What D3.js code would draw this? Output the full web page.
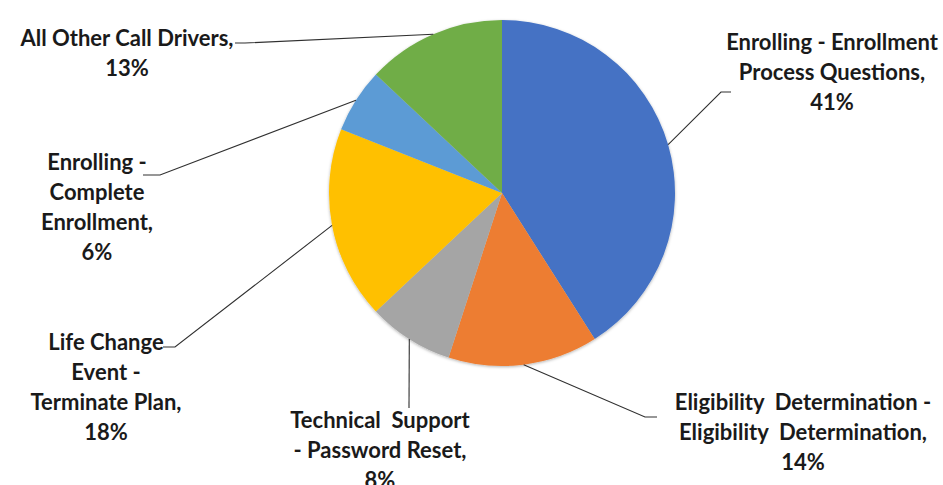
<!DOCTYPE html>
<html>
<head>
<meta charset="utf-8">
<script src="https://cdn.jsdelivr.net/npm/d3@7"></script>
<style>
  body { margin: 0; background: #fff; }
  .label text { font-family: Lato, "Open Sans", sans-serif; font-weight: bold; fill: #1a1a1a; }
</style>
</head>
<body>
<div class="main"></div>
<script>
// Data, clockwise from 12 o'clock
const categories = [
  ["Enrolling - Enrollment", "Process Questions"],
  ["Eligibility  Determination -", "Eligibility  Determination"],
  ["Technical  Support", "- Password Reset"],
  ["Life Change", "Event -", "Terminate Plan"],
  ["Enrolling -", "Complete", "Enrollment"],
  ["All Other Call Drivers"]
];
const percents = [41, 14, 8, 18, 6, 13];
const colors = ["#4472C4", "#ED7D31", "#A5A5A5", "#FFC000", "#5B9BD5", "#70AD47"];

// Label layout: text centre x, first line centre y, leader elbow and end
const labelPos = [
  { x: 832, y: 42,  elbow: [721, 92],  end: 731 },
  { x: 803, y: 402, elbow: [645, 417], end: 657 },
  { x: 380, y: 420, elbow: [409, 408], end: 409 },
  { x: 106, y: 342, elbow: [175, 347], end: 163 },
  { x: 97,  y: 162, elbow: [160, 175], end: 143 },
  { x: 127, y: 38,  elbow: [245, 43],  end: 235 }
];

const width = 943, height = 485;
const cx = 502, cy = 193, radius = 173;
const lineGap = 30;

const svg = d3.select(".main").append("svg")
    .attr("width", width)
    .attr("height", height);

const defs = svg.append("defs");
defs.append("filter")
    .attr("id", "shadow")
    .attr("x", "-10%").attr("y", "-10%")
    .attr("width", "120%").attr("height", "120%")
  .append("feDropShadow")
    .attr("dx", 0).attr("dy", 1)
    .attr("stdDeviation", 1.6)
    .attr("flood-color", "#000")
    .attr("flood-opacity", 0.3);

const pie = d3.pie().sort(null).value(d => d);
const arcs = pie(percents);
const arc = d3.arc().innerRadius(0).outerRadius(radius);

const pieG = svg.append("g")
    .attr("transform", "translate(" + cx + "," + cy + ")")
    .attr("filter", "url(#shadow)");

pieG.selectAll("path")
  .data(arcs)
  .enter().append("path")
    .attr("d", arc)
    .attr("fill", (d, i) => colors[i]);

// leader lines
function edgePoint(d) {
  const a = (d.startAngle + d.endAngle) / 2;
  return [cx + radius * Math.sin(a), cy - radius * Math.cos(a)];
}

svg.append("g").selectAll("polyline")
  .data(arcs)
  .enter().append("polyline")
    .attr("points", (d, i) => {
      const p = labelPos[i];
      const s = edgePoint(d);
      return [s, p.elbow, [p.end, p.elbow[1]]].map(q => q.join(",")).join(" ");
    })
    .attr("fill", "none")
    .attr("stroke", "#303030")
    .attr("stroke-width", 1.1);

// labels
const labels = svg.append("g").attr("class", "label").selectAll("text")
  .data(arcs)
  .enter().append("text")
    .attr("text-anchor", "middle")
    .attr("font-size", 22)
    .attr("xml:space", "preserve")
    .style("white-space", "pre");

labels.each(function(d, i) {
  const lines = categories[i].slice();
  lines[lines.length - 1] += ",";
  lines.push(percents[i] + "%");
  const p = labelPos[i];
  d3.select(this).selectAll("tspan")
    .data(lines)
    .enter().append("tspan")
      .attr("x", p.x)
      .attr("y", (t, j) => p.y + j * lineGap)
      .attr("dy", "0.36em")
      .text(t => t);
});
</script>
</body>
</html>
